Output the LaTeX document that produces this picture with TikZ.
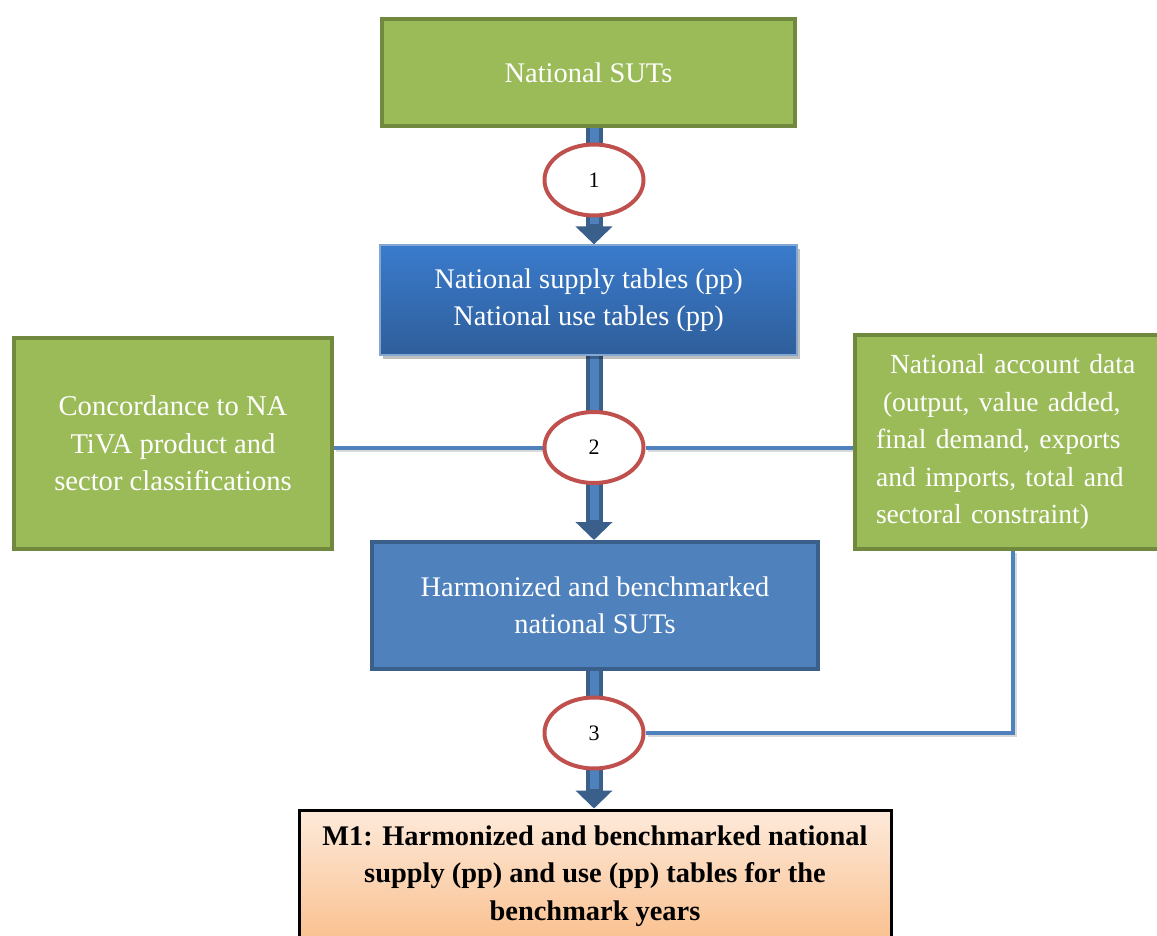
\documentclass[tikz,border=0pt]{standalone}
\usepackage{fontspec}
\setmainfont{Liberation Serif}
\usetikzlibrary{arrows.meta,shapes.geometric,shadows,calc}
\definecolor{grfill}{HTML}{9BBB59}
\definecolor{grdraw}{HTML}{71893F}
\definecolor{blfill}{HTML}{4F81BD}
\definecolor{bldraw}{HTML}{3A5F8B}
\definecolor{bltop}{HTML}{3A7BCC}
\definecolor{blbot}{HTML}{2F5E9B}
\definecolor{redring}{HTML}{C0504D}
\definecolor{ortop}{HTML}{FDEADA}
\definecolor{orbot}{HTML}{FAC08F}
\pgfdeclarelayer{bg}
\pgfsetlayers{bg,main}
\begin{document}
\begin{tikzpicture}[x=0.5pt,y=-0.5pt,
  every node/.style={font=\fontsize{14.2}{18.75}\selectfont, text=white, align=center, inner sep=0pt},
  greenbox/.style={rectangle, fill=grfill, draw=grdraw, line width=2pt},
  bluebox/.style={rectangle, fill=blfill, draw=bldraw, line width=2pt},
  gradbox/.style={rectangle, top color=bltop, bottom color=blbot, draw=blfill!70!white, line width=0.6pt,
     drop shadow={shadow xshift=1.5pt, shadow yshift=-2pt, opacity=0.25, fill=black}},
  resultbox/.style={rectangle, top color=ortop, bottom color=orbot, draw=black, line width=1.5pt, text=black,
     font=\fontsize{14.2}{18.75}\selectfont\bfseries},
  stepring/.style={ellipse, draw=redring, line width=2pt, fill=white, text=black,
     minimum width=49.5pt, minimum height=35.5pt, font=\fontsize{11}{13}\selectfont},
  fatarrow/.style={draw=bldraw, line width=8.5pt, -{Triangle[width=18pt,length=9pt]},
     postaction={draw=blfill, line width=4.5pt, shorten >=10pt, -}},
  feedline/.style={draw=blfill, line width=2pt,
     preaction={draw=black, opacity=0.15, line width=2pt, transform canvas={xshift=1pt,yshift=-1pt}}}
]
\useasboundingbox (0,0) rectangle (1157,936);
\clip (0,0) rectangle (1157,936);

\node[greenbox, minimum width=206.5pt, minimum height=53.5pt] (suts) at (588.5,72.5) {National SUTs};
\node[gradbox, minimum width=208.5pt, minimum height=55pt] (pp) at (588.5,300)
  {National supply tables (pp)\\National use tables (pp)};
\node[greenbox, minimum width=159pt, minimum height=105.5pt, font=\fontsize{14.3}{18.75}\selectfont] (conc) at (173,443.5)
  {Concordance to NA\\TiVA product and\\sector classifications};
\node[greenbox, minimum width=156.5pt, minimum height=107pt, text width=135.5pt, align=left,
      font=\fontsize{13.8}{18.75}\selectfont] (nad) at (1011.5,442)
  {\hspace*{7pt}National account data\\\hspace*{3.5pt}(output, value added,\\final demand, exports\\and imports, total and\\sectoral constraint)};
\node[bluebox, minimum width=223pt, minimum height=63.5pt] (harm) at (595,605.5)
  {Harmonized and benchmarked\\national SUTs};
\node[resultbox, minimum width=296pt, minimum height=66pt] (m1) at (595,876)
  {M1: Harmonized and benchmarked national\\supply (pp) and use (pp) tables for the\\benchmark years};

\node[stepring] (s1) at (594,180) {1};
\node[stepring] (s2) at (594,447.5) {2};
\node[stepring] (s3) at (594,733) {3};
\coordinate (bend) at (1013,737);

\begin{pgfonlayer}{bg}
  \fill[white] (0,0) rectangle (1157,936);
  \draw[fatarrow] (suts.south -| s1) -- (pp.north -| s1);
  \draw[fatarrow] (pp.south -| s2) -- (harm.north -| s2);
  \draw[fatarrow] (harm.south -| s3) -- (m1.north -| s3);
  \draw[feedline] (conc.east |- s2.west) -- (s2.west);
  \draw[feedline] (s2.east) -- (nad.west |- s2.east);
  \draw[feedline] (s3.east) -- (s3.east -| bend) -- (bend |- nad.south);
\end{pgfonlayer}
\end{tikzpicture}
\end{document}
